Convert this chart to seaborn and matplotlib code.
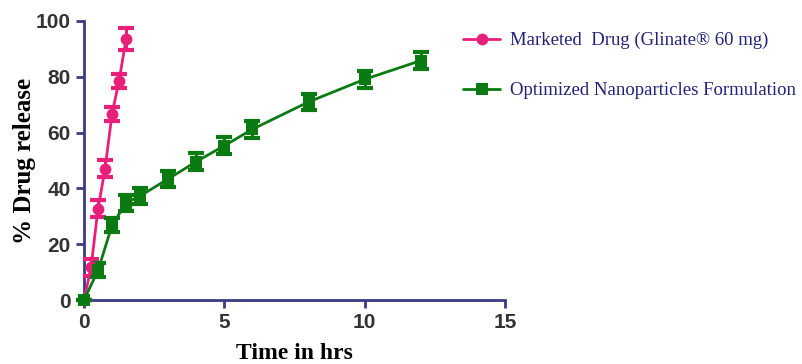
import numpy as np
import pandas as pd
import matplotlib
matplotlib.use("Agg")
import matplotlib.pyplot as plt
import seaborn as sns

# marketed drug (Glinate 60 mg)
time_mkt = [0, 0.25, 0.5, 0.75, 1.0, 1.25, 1.5]
rel_mkt = [0, 11.7, 32.7, 47.0, 66.8, 78.6, 93.6]
sd_mkt = [0, 3.0, 3.0, 3.0, 2.5, 2.5, 4.0]

# optimized nanoparticles formulation
time_np = [0, 0.5, 1, 1.5, 2, 3, 4, 5, 6, 8, 10, 12]
rel_np = [0, 10.6, 26.8, 34.8, 37.3, 43.4, 49.6, 55.3, 61.2, 71.0, 79.1, 85.8]
sd_np = [0, 2.5, 2.5, 3.0, 3.0, 3.0, 3.0, 3.0, 3.0, 3.0, 3.0, 3.0]

x_ticks = [0, 5, 10, 15]
y_ticks = [0, 20, 40, 60, 80, 100]

label_mkt = "Marketed  Drug (Glinate\u00ae 60 mg)"
label_np = "Optimized Nanoparticles Formulation"

pink = "#e8207a"
green = "#0b7a12"
axis_col = "#3a3a85"

sns.set_style("ticks")

df_mkt = pd.DataFrame({"t": time_mkt, "rel": rel_mkt})
df_np = pd.DataFrame({"t": time_np, "rel": rel_np})

fig = plt.figure(figsize=(8.03, 3.64), dpi=100)
ax = fig.add_axes([84 / 803, 1 - 300 / 364, (505 - 84) / 803, (300 - 21) / 364])

ax.errorbar(time_mkt, rel_mkt, yerr=sd_mkt, fmt="none", ecolor=pink,
            elinewidth=2.2, capsize=6, capthick=3, zorder=3)
ax.errorbar(time_np, rel_np, yerr=sd_np, fmt="none", ecolor=green,
            elinewidth=2.2, capsize=6, capthick=3, zorder=3)
sns.lineplot(data=df_mkt, x="t", y="rel", ax=ax, color=pink, marker="o",
             markersize=8.5, markeredgewidth=0, linewidth=2, label=label_mkt, zorder=4)
sns.lineplot(data=df_np, x="t", y="rel", ax=ax, color=green, marker="s",
             markersize=8.5, markeredgewidth=0, linewidth=2, label=label_np, zorder=4)

ax.set_xlim(0, 15)
ax.set_ylim(0, 100)
ax.set_xticks(x_ticks)
ax.set_yticks(y_ticks)
for sp in ["top", "right"]:
    ax.spines[sp].set_visible(False)
for sp in ["left", "bottom"]:
    ax.spines[sp].set_color(axis_col)
    ax.spines[sp].set_linewidth(2)
ax.tick_params(colors=axis_col, width=2, length=6, direction="out")
for lab in ax.get_xticklabels() + ax.get_yticklabels():
    lab.set_color("#333333")
    lab.set_fontweight("bold")
    lab.set_fontsize(15)
    lab.set_family("Liberation Sans")

ax.set_xlabel("Time in hrs", fontsize=17, fontweight="bold",
              family="Liberation Serif", color="black", labelpad=8)
ax.set_ylabel("% Drug release", fontsize=18, fontweight="bold",
              family="Liberation Serif", color="black", labelpad=0)

for ln in ax.get_lines():
    ln.set_clip_on(False)

leg = ax.legend(loc="upper left", bbox_to_anchor=(463 / 803, 1 - 32 / 364),
                bbox_transform=fig.transFigure, frameon=False, labelspacing=1.75,
                handlelength=2.0, handletextpad=0.5, borderpad=0, borderaxespad=0,
                prop={"family": "Liberation Serif", "size": 13.5})
for txt in leg.get_texts():
    txt.set_color("#22227a")

fig.savefig("out.png", dpi=100)
